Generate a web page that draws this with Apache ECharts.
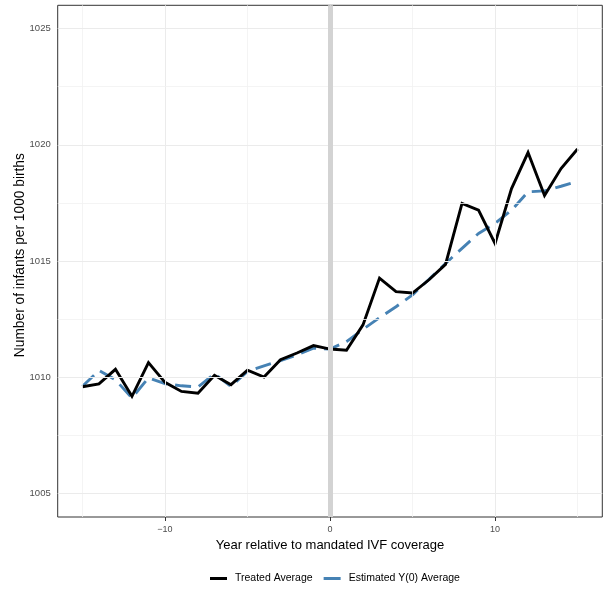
<!DOCTYPE html>
<html>
<head>
<meta charset="utf-8">
<script src="https://cdn.jsdelivr.net/npm/echarts@6/dist/echarts.min.js"></script>
<style>html,body{margin:0;padding:0;background:#fff}#c{width:603px;height:591px}</style>
</head>
<body>
<div id="c"></div>
<script>
const years = [-15,-14,-13,-12,-11,-10,-9,-8,-7,-6,-5,-4,-3,-2,-1,0,1,2,3,4,5,6,7,8,9,10,11,12,13,14,15];
const treated = [1009.60,1009.72,1010.35,1009.19,1010.64,1009.79,1009.40,1009.32,1010.09,1009.69,1010.31,1010.02,1010.76,1011.05,1011.37,1011.22,1011.17,1012.26,1014.27,1013.69,1013.63,1014.20,1014.86,1017.48,1017.19,1015.76,1018.12,1019.67,1017.82,1018.98,1019.82];
const estimated = [1009.62,1010.30,1009.90,1009.12,1009.98,1009.73,1009.64,1009.59,1010.16,1009.61,1010.26,1010.50,1010.72,1010.97,1011.26,1011.22,1011.54,1012.07,1012.57,1013.04,1013.55,1014.22,1014.90,1015.55,1016.19,1016.62,1017.19,1017.98,1018.02,1018.22,1018.43];
const xTicks = [-10, 0, 10];
const xMinor = [-15, -5, 5, 15];
const yTicks = [1005, 1010, 1015, 1020, 1025];
const yMinor = [1007.5, 1012.5, 1017.5, 1022.5];
const treatmentYear = 0;

const font = 'Liberation Sans, Arial, Helvetica, sans-serif';
const chart = echarts.init(document.getElementById('c'), null, {renderer: 'canvas'});
const pairs = (ys) => years.map((x, i) => [x, ys[i]]);
const fmtX = v => (v < 0 ? '\u2212' + Math.abs(v) : String(v));
const fmtY = v => String(v);

chart.setOption({
  animation: false,
  backgroundColor: '#fff',
  grid: {left: 57.7, top: 5.3, right: 0.7, bottom: 74, containLabel: false, outerBoundsMode: 'none',
         show: true, borderColor: '#333333', borderWidth: 1, backgroundColor: 'transparent'},
  xAxis: {
    type: 'value', min: -16.5, max: 16.5,
    name: 'Year relative to mandated IVF coverage', nameLocation: 'middle', nameGap: 22,
    nameTextStyle: {fontFamily: font, fontSize: 13, color: '#000'},
    axisLine: {show: false},
    axisTick: {show: true, length: 4, lineStyle: {color: '#333333', width: 1}, customValues: xTicks},
    axisLabel: {fontFamily: font, fontSize: 9, color: '#4d4d4d', margin: 8, customValues: xTicks, formatter: fmtX},
    splitLine: {show: false}
  },
  yAxis: {
    type: 'value', min: 1004, max: 1026,
    name: 'Number of infants per 1000 births', nameLocation: 'middle', nameGap: 30, nameRotate: 90,
    nameMoveOverlap: false,
    nameTextStyle: {fontFamily: font, fontSize: 13.75, color: '#000', padding: [0, 0, 0, 12]},
    axisLine: {show: false},
    axisTick: {show: true, length: 4, lineStyle: {color: '#333333', width: 1}, customValues: yTicks},
    axisLabel: {fontFamily: font, fontSize: 9.5, color: '#4d4d4d', margin: 7, customValues: yTicks, formatter: fmtY},
    splitLine: {show: false}
  },
  legend: {
    left: 210, top: 573, orient: 'horizontal', padding: 0,
    itemWidth: 17, itemHeight: 3, itemGap: 11, icon: 'rect',
    textStyle: {fontFamily: font, fontSize: 10.5, color: '#000', padding: [0, 0, 0, 3]},
    data: ['Treated Average', 'Estimated Y(0) Average']
  },
  series: [
    {
      name: 'gridlines', type: 'line', data: [], silent: true, z: 1,
      markLine: {
        silent: true, symbol: 'none', label: {show: false}, animation: false,
        data: [
          ...xTicks.map(v => ({xAxis: v, lineStyle: {color: '#ebebeb', width: 1, type: 'solid'}})),
          ...xMinor.map(v => ({xAxis: v, lineStyle: {color: '#f1f1f1', width: 0.8, type: 'solid'}})),
          ...yTicks.map(v => ({yAxis: v, lineStyle: {color: '#ebebeb', width: 1, type: 'solid'}})),
          ...yMinor.map(v => ({yAxis: v, lineStyle: {color: '#f1f1f1', width: 0.8, type: 'solid'}}))
        ]
      }
    },
    {
      name: 'treatment', type: 'line', data: [], silent: true, z: 2,
      markLine: {
        silent: true, symbol: 'none', label: {show: false}, animation: false,
        data: [{xAxis: treatmentYear, lineStyle: {color: '#d3d3d3', width: 5, type: 'solid'}}]
      }
    },
    {
      name: 'Estimated Y(0) Average', type: 'line', data: pairs(estimated), z: 3,
      showSymbol: false, symbol: 'none', color: '#4682b4',
      lineStyle: {color: '#4682b4', width: 2.9, type: [16, 8], cap: 'butt'}
    },
    {
      name: 'Treated Average', type: 'line', data: pairs(treated), z: 4,
      showSymbol: false, symbol: 'none', color: '#000000',
      lineStyle: {color: '#000000', width: 2.9, type: 'solid', join: 'miter'}
    }
  ]
});
</script>
</body>
</html>
